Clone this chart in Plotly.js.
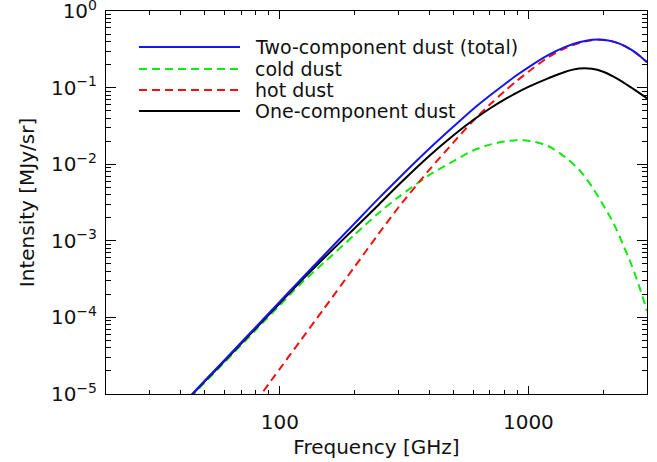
<!DOCTYPE html>
<html><head><meta charset="utf-8">
<script src="https://cdn.plot.ly/plotly-3.0.1.min.js"></script>
<style>html,body{margin:0;padding:0;background:#fff}#chart{width:657px;height:462px}</style>
</head><body><div id="chart"></div>
<script>
// Frequency grid (GHz)
const frequency = [40, 50, 60, 80, 100, 120, 150, 200, 250, 300, 400, 500, 600, 700, 800, 900, 1000, 1200, 1400, 1600, 1800, 2000, 2200, 2400, 2600, 2800, 3000];
// Intensity (MJy/sr)
const twoComponentTotal = [6.97e-6, 1.50e-5, 2.79e-5, 7.45e-5, 1.60e-4, 3.0e-4, 6.39e-4, 1.69e-3, 3.58e-3, 6.47e-3, 0.0160, 0.0310, 0.0526, 0.0788, 0.110, 0.146, 0.184, 0.265, 0.338, 0.390, 0.421, 0.422, 0.398, 0.358, 0.310, 0.261, 0.215];
const coldDust = [6.67e-6, 1.42e-5, 2.60e-5, 6.82e-5, 1.44e-4, 2.65e-4, 5.13e-4, 1.20e-3, 2.31e-3, 3.72e-3, 7.25e-3, 0.0110, 0.0151, 0.0180, 0.0198, 0.0206, 0.0203, 0.0173, 0.0125, 8.47e-3, 5.12e-3, 2.93e-3, 1.70e-3, 8.99e-4, 4.83e-4, 2.47e-4, 1.21e-4];
const hotDust = [null, null, null, 7.9e-6, 2.13e-5, 4.77e-5, 1.28e-4, 4.58e-4, 1.24e-3, 2.72e-3, 8.5e-3, 0.0193, 0.0370, 0.0600, 0.089, 0.123, 0.161, 0.248, 0.3255, 0.3815, 0.416, 0.419, 0.396, 0.357, 0.3095, 0.261, 0.215];
const oneComponent = [6.87e-6, 1.47e-5, 2.71e-5, 7.16e-5, 1.53e-4, 2.86e-4, 5.87e-4, 1.46e-3, 2.96e-3, 5.35e-3, 0.0129, 0.0239, 0.0377, 0.0533, 0.0696, 0.0860, 0.102, 0.132, 0.160, 0.177, 0.176, 0.161, 0.139, 0.118, 0.0995, 0.0845, 0.0725];

const seriesNames = ['Two-component dust (total)', 'cold dust', 'hot dust', 'One-component dust'];
const xTickVals = [100, 1000];
const xTickText = ['100', '1000'];
const yTickVals = [1e-5, 1e-4, 1e-3, 1e-2, 1e-1, 1];
const yTickText = ['10<sup>\u22125</sup>', '10<sup>\u22124</sup>', '10<sup>\u22123</sup>', '10<sup>\u22122</sup>', '10<sup>\u22121</sup>', '10<sup>0</sup>'];

const FONT = 'DejaVu Sans, sans-serif';
const TXT = '#111';
const styles = [
  {color: '#1515f0', dash: 'solid'},
  {color: '#10e810', dash: '8px,5px'},
  {color: '#f01010', dash: '8px,5px'},
  {color: '#000000', dash: 'solid'}
];
const seriesData = [twoComponentTotal, coldDust, hotDust, oneComponent];

// drawing order: cold, hot, one-component, total on top
const order = [1, 2, 3, 0];
const traces = order.map(i => ({
  x: frequency, y: seriesData[i], type: 'scatter', mode: 'lines', name: seriesNames[i],
  line: {color: styles[i].color, width: 2, dash: styles[i].dash, shape: 'spline', smoothing: 0.8},
  connectgaps: false, showlegend: false, hoverinfo: 'skip'
}));
// empty traces so that the tick-only overlay axes get drawn
[['x2', 'y'], ['x3', 'y'], ['x4', 'y'], ['x', 'y2'], ['x', 'y3'], ['x', 'y4']].forEach(p => {
  traces.push({x: [], y: [], type: 'scatter', mode: 'lines', xaxis: p[0], yaxis: p[1], showlegend: false, hoverinfo: 'skip'});
});

const xMinor = [];
[10, 100, 1000].forEach(d => { for (let m = 2; m <= 9; m++) { const v = m * d; if (v >= 20 && v <= 3000) xMinor.push(v); } });
const yMinor = [];
for (let e = -5; e < 0; e++) { for (let m = 2; m <= 9; m++) yMinor.push(m * Math.pow(10, e)); }

// manual legend (long line samples)
const L = {l: 106, r: 10, t: 11, b: 68, W: 657, H: 462};
const pw = L.W - L.l - L.r, ph = L.H - L.t - L.b;
const px = v => (v - L.l) / pw;
const py = v => (L.H - L.b - v) / ph;
const legendRows = [47, 69, 90, 111];
const shapes = [], annotations = [];
seriesNames.forEach((n, i) => {
  shapes.push({type: 'line', xref: 'paper', yref: 'paper', x0: px(139), x1: px(240), y0: py(legendRows[i]), y1: py(legendRows[i]),
    line: {color: styles[i].color, width: 2, dash: styles[i].dash}});
  annotations.push({xref: 'paper', yref: 'paper', x: px(253), y: py(legendRows[i]), xanchor: 'left', yanchor: 'middle',
    text: n, showarrow: false, font: {family: FONT, size: 19, color: TXT}});
});

const xRange = [Math.log10(20), Math.log10(3000)];
const yRange = [-5, 0];
const tickOnly = {
  type: 'log', showline: false, showgrid: false, zeroline: false, showticklabels: false,
  ticks: 'inside', tickcolor: '#000', tickwidth: 1, tickmode: 'array'
};
const layout = {
  width: 657, height: 462,
  margin: {l: L.l, r: L.r, t: L.t, b: L.b},
  paper_bgcolor: '#fff', plot_bgcolor: '#fff',
  showlegend: false,
  xaxis: {
    type: 'log', range: xRange, showline: true, linecolor: '#000', linewidth: 1, mirror: true,
    ticks: 'inside', tickcolor: '#000', tickwidth: 1, ticklen: 8, showgrid: false, zeroline: false,
    tickmode: 'array', tickvals: xTickVals, ticktext: xTickText, ticklabelstandoff: 10, ticklabeloverflow: 'allow',
    tickfont: {family: FONT, size: 20, color: TXT},
    title: {text: 'Frequency [GHz]', font: {family: FONT, size: 20, color: TXT}, standoff: 6}
  },
  xaxis2: Object.assign({}, tickOnly, {overlaying: 'x', anchor: 'y', side: 'bottom', range: xRange, tickvals: xMinor, ticklen: 4}),
  xaxis3: Object.assign({}, tickOnly, {overlaying: 'x', anchor: 'y', side: 'top', range: xRange, tickvals: xTickVals, ticklen: 8}),
  xaxis4: Object.assign({}, tickOnly, {overlaying: 'x', anchor: 'y', side: 'top', range: xRange, tickvals: xMinor, ticklen: 4}),
  yaxis: {
    type: 'log', range: yRange, showline: true, linecolor: '#000', linewidth: 1, mirror: true,
    ticks: 'inside', tickcolor: '#000', tickwidth: 1, ticklen: 10, showgrid: false, zeroline: false,
    tickmode: 'array', tickvals: yTickVals, ticktext: yTickText, ticklabelstandoff: 4, ticklabeloverflow: 'allow',
    tickfont: {family: FONT, size: 20, color: TXT},
    title: {text: 'Intensity [MJy/sr]', font: {family: FONT, size: 20, color: TXT}, standoff: 10}
  },
  yaxis2: Object.assign({}, tickOnly, {overlaying: 'y', anchor: 'x', side: 'left', range: yRange, tickvals: yMinor, ticklen: 5}),
  yaxis3: Object.assign({}, tickOnly, {overlaying: 'y', anchor: 'x', side: 'right', range: yRange, tickvals: yTickVals, ticklen: 10}),
  yaxis4: Object.assign({}, tickOnly, {overlaying: 'y', anchor: 'x', side: 'right', range: yRange, tickvals: yMinor, ticklen: 5}),
  shapes: shapes, annotations: annotations
};
Plotly.newPlot('chart', traces, layout, {staticPlot: true, displayModeBar: false});
</script>
</body></html>
